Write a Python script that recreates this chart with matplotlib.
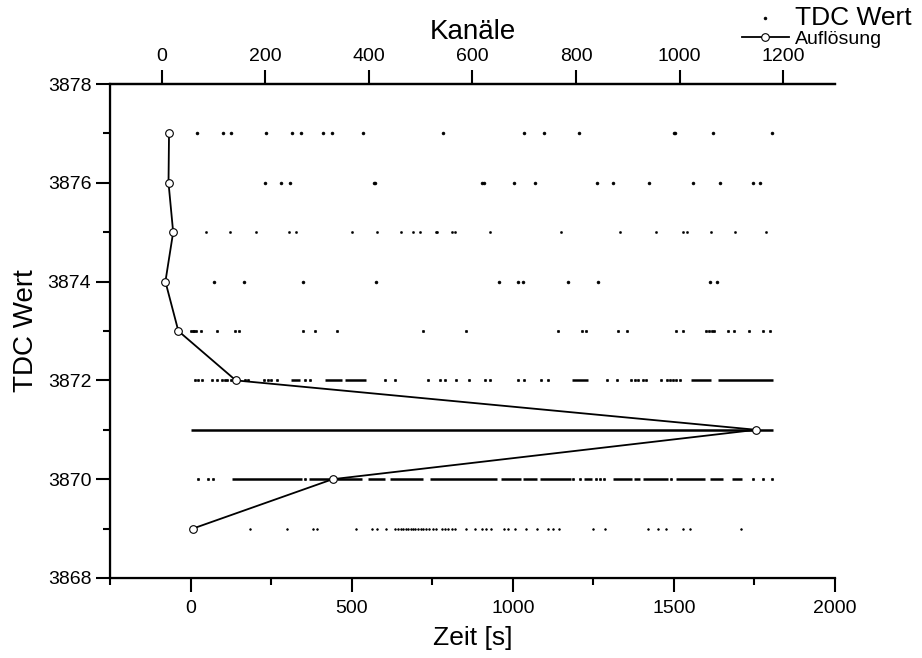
import numpy as np
import matplotlib
matplotlib.use("Agg")
import matplotlib.pyplot as plt
from matplotlib.ticker import MultipleLocator

plt.rcParams['font.family'] = ['Liberation Sans', 'DejaVu Sans']

# TDC Werte (y-Zeilen)
tdc_values = [3869, 3870, 3871, 3872, 3873, 3874, 3875, 3876, 3877]

# Einzelne Messpunkte je TDC Wert (Zeit in s)
dots_3877 = [20, 102, 127, 235, 316, 343, 410, 439, 534, 784, 1034, 1097, 1206, 1501, 1505, 1620, 1804]
dots_3876 = [232, 282, 310, 569, 573, 906, 910, 1003, 1068, 1260, 1310, 1424, 1560, 1644, 1746, 1768]
dots_3875 = [47, 123, 202, 305, 328, 500, 580, 654, 690, 713, 761, 765, 811, 820, 930, 1149, 1332,
             1444, 1528, 1540, 1615, 1689, 1785]
dots_3874 = [72, 165, 350, 576, 957, 1016, 1032, 1171, 1266, 1612, 1633]
dots_3873 = [2, 7, 12, 17, 33, 83, 139, 149, 350, 387, 453, 722, 854, 1140, 1214, 1227, 1327, 1354,
             1507, 1528, 1599, 1609, 1618, 1625, 1668, 1688, 1733, 1778, 1799]
dots_3872 = [13, 22, 34, 68, 81, 98, 106, 114, 127, 169, 179, 228, 241, 251, 267, 355, 370, 605, 634,
             736, 774, 789, 823, 865, 913, 929, 1015, 1036, 1089, 1108, 1294, 1322, 1367, 1378, 1390,
             1403, 1412, 1460, 1478, 1488, 1497, 1508, 1519]
dots_3870 = [24, 53, 70, 355, 1188, 1208, 1258, 1270, 1284, 1491, 1746, 1777, 1806]
dots_3869 = [186, 300, 379, 391, 515, 564, 578, 607, 634, 645, 652, 660, 668, 675, 683, 690, 698, 706,
             714, 722, 730, 740, 752, 763, 779, 790, 800, 811, 820, 854, 882, 903, 916, 932, 974, 985,
             1007, 1040, 1074, 1110, 1125, 1143, 1250, 1286, 1421, 1452, 1477, 1529, 1550, 1708]

# dichte Abschnitte (Start, Ende) in s
runs_3872 = [(311, 340), (417, 470), (478, 546), (1185, 1234), (1553, 1615), (1638, 1808)]
runs_3871 = [(2, 1808)]
runs_3870 = [(129, 345), (367, 438), (453, 531), (552, 603), (620, 722), (743, 950), (962, 1025),
             (1033, 1074), (1084, 1180), (1221, 1245), (1312, 1369), (1375, 1394), (1405, 1483),
             (1508, 1596), (1612, 1653), (1681, 1712)]

# Auflösung (Histogramm, Kanäle)
aufloesung = [60, 330, 1148, 143, 32, 7, 22, 13, 14]

fig = plt.figure(figsize=(9.22, 6.58), dpi=100)
ax = fig.add_axes([0.1193, 0.1216, 0.7863, 0.7507])

rows = [(3877, dots_3877, 2.1), (3876, dots_3876, 2.1), (3875, dots_3875, 1.5),
        (3874, dots_3874, 2.1), (3873, dots_3873, 1.8), (3872, dots_3872, 1.8),
        (3870, dots_3870, 1.8), (3869, dots_3869, 1.3)]
first = True
for val, ts, ms in rows:
    ax.plot(ts, [val] * len(ts), ls='none', marker='o', ms=ms, color='black',
            mec='black', mew=0.4, label='TDC Wert' if first else None)
    first = False
for val, runs in [(3872, runs_3872), (3871, runs_3871), (3870, runs_3870)]:
    for a, b in runs:
        ax.hlines(val, a, b, color='black', lw=1.8)

ax.set_xlim(-250, 2000)
ax.set_ylim(3868, 3878)
ax.xaxis.set_major_locator(MultipleLocator(500))
ax.xaxis.set_minor_locator(MultipleLocator(250))
ax.yaxis.set_major_locator(MultipleLocator(2))
ax.yaxis.set_minor_locator(MultipleLocator(1))
ax.tick_params(which='major', direction='out', length=10, width=1.5, labelsize=14)
ax.tick_params(which='minor', direction='out', length=5, width=1.5)
ax.tick_params(axis='x', pad=6)
ax.set_xlabel('Zeit [s]', fontsize=19, labelpad=6)
ax.set_ylabel('TDC Wert', fontsize=20, labelpad=6)
ax.spines['right'].set_visible(False)
for s in ['left', 'bottom', 'top']:
    ax.spines[s].set_linewidth(1.6)

ax2 = ax.twiny()
ax2.plot(aufloesung, tdc_values, color='black', lw=1.3, marker='o', ms=5.5,
         mfc='white', mec='black', mew=0.8, label='Auflösung')
ax2.set_xlim(-100, 1300)
ax2.xaxis.set_major_locator(MultipleLocator(200))
ax2.tick_params(which='major', direction='out', length=10, width=1.5, labelsize=14)
ax2.set_xlabel('Kanäle', fontsize=20, labelpad=7)
ax2.spines['right'].set_visible(False)
ax2.spines['top'].set_linewidth(1.6)

h1, l1 = ax.get_legend_handles_labels()
h2, l2 = ax2.get_legend_handles_labels()
leg = ax2.legend(h1 + h2, l1 + l2, loc='upper right', bbox_to_anchor=(1.003, 1.012),
                 bbox_transform=fig.transFigure, frameon=False, fontsize=14,
                 handlelength=2.4, handletextpad=0.3, borderpad=0.2, labelspacing=0.05,
                 markerscale=1.0)
leg.get_texts()[0].set_fontsize(19)

fig.savefig('out.png', dpi=100)
